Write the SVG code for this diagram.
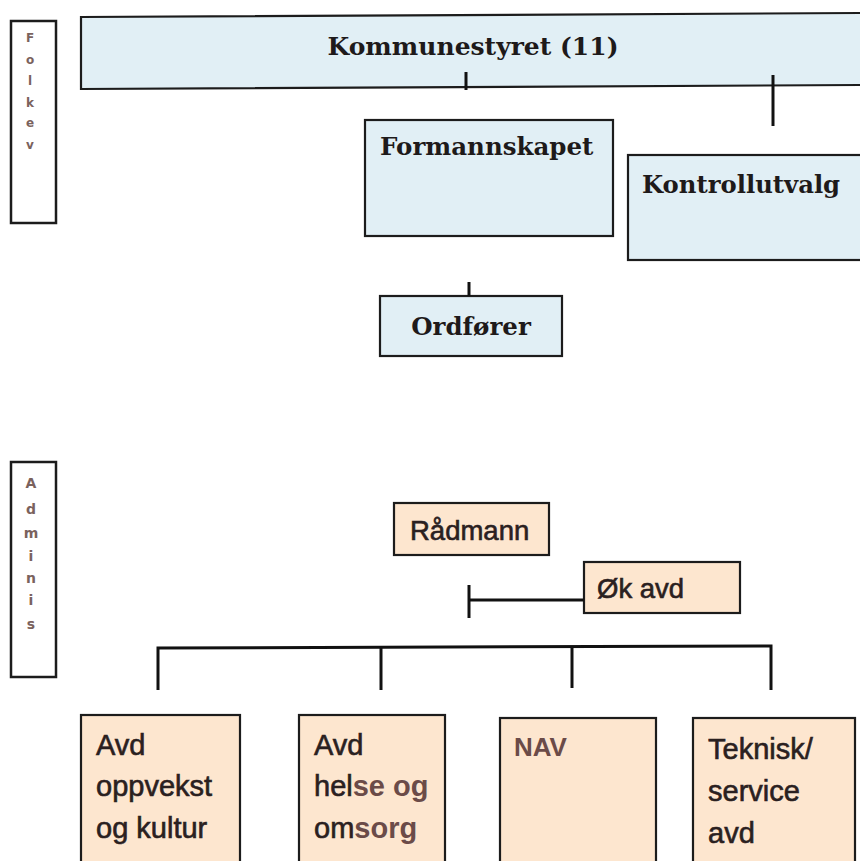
<svg xmlns="http://www.w3.org/2000/svg" width="860" height="861" viewBox="0 0 860 861">
<style>
.box{stroke:#1c1c1c;stroke-width:2.2}
.blue{fill:#e1eff5}
.peach{fill:#fde6cf}
.side{fill:#ffffff;stroke:#1c1c1c;stroke-width:2.5}
.ser{font-family:"DejaVu Serif",serif;font-weight:bold;fill:#1e1a1a}
.sans{font-family:"Liberation Sans",Arial,sans-serif;fill:#2a2020;stroke:#2a2020;stroke-width:0.6}
.brn{font-family:"Liberation Sans",Arial,sans-serif;font-weight:bold;fill:#6b4b48;stroke:none}
.vl{font-family:"DejaVu Sans",sans-serif;font-weight:bold;fill:#7a625d;text-anchor:middle}
.ln{stroke:#111;stroke-width:3;fill:none}
</style>
<rect width="860" height="861" fill="#ffffff"/>

<g id="folkev">
<rect class="side" x="11" y="21" width="45" height="202"/>
<text class="vl" font-size="12" x="30" y="42">F</text>
<text class="vl" font-size="12" x="30" y="64">o</text>
<text class="vl" font-size="12" x="30" y="85">l</text>
<text class="vl" font-size="12" x="30" y="107">k</text>
<text class="vl" font-size="12" x="30" y="127">e</text>
<text class="vl" font-size="12" x="30" y="149">v</text>
</g>

<g id="adminis">
<rect class="side" x="11" y="462" width="45" height="215"/>
<text class="vl" font-size="14" x="31" y="488">A</text>
<text class="vl" font-size="14" x="31" y="514">d</text>
<text class="vl" font-size="14" x="31" y="538">m</text>
<text class="vl" font-size="14" x="31" y="561">i</text>
<text class="vl" font-size="14" x="31" y="583">n</text>
<text class="vl" font-size="14" x="31" y="605">i</text>
<text class="vl" font-size="14" x="31" y="629">s</text>
</g>

<g id="kommunestyret">
<polygon class="box blue" points="81,17 862,13 862,85 81,89"/>
<text class="ser" font-size="25" x="473" y="55" text-anchor="middle">Kommunestyret (11)</text>
</g>

<g id="formannskapet">
<rect class="box blue" x="365" y="120" width="248" height="116"/>
<text class="ser" font-size="24.5" x="380" y="155">Formannskapet</text>
</g>

<g id="kontrollutvalg">
<rect class="box blue" x="628" y="155" width="240" height="105"/>
<text class="ser" font-size="24.3" x="642" y="193">Kontrollutvalg</text>
</g>

<g id="ordforer">
<rect class="box blue" x="380" y="296" width="182" height="60"/>
<text class="ser" font-size="24.5" x="471" y="335" text-anchor="middle">Ordfører</text>
</g>

<g id="radmann">
<rect class="box peach" x="394" y="503" width="155" height="52"/>
<text class="sans" font-size="27.5" x="410" y="540">Rådmann</text>
</g>

<g id="okavd">
<rect class="box peach" x="584" y="562" width="156" height="51"/>
<text class="sans" font-size="27.5" x="597" y="598">Øk avd</text>
</g>

<g id="avd-oppvekst">
<rect class="box peach" x="81" y="715" width="159" height="160"/>
<text class="sans" font-size="29" x="96" y="755">Avd</text>
<text class="sans" font-size="29" x="96" y="796">oppvekst</text>
<text class="sans" font-size="29" x="96" y="838">og kultur</text>
</g>

<g id="avd-helse">
<rect class="box peach" x="299" y="715" width="146" height="160"/>
<text class="sans" font-size="29" x="314" y="755">Avd</text>
<text class="sans" font-size="29" x="314" y="796">hel<tspan class="brn">se og</tspan></text>
<text class="sans" font-size="29" x="314" y="838">om<tspan class="brn">sorg</tspan></text>
</g>

<g id="nav">
<rect class="box peach" x="500" y="718" width="156" height="157"/>
<text class="brn" font-size="26" x="514" y="756">NAV</text>
</g>

<g id="teknisk">
<rect class="box peach" x="693" y="718" width="162" height="157"/>
<text class="sans" font-size="29" x="708" y="759">Teknisk/</text>
<text class="sans" font-size="29" x="708" y="801">service</text>
<text class="sans" font-size="29" x="708" y="843">avd</text>
</g>

<g id="connectors">
<line class="ln" x1="466" y1="72" x2="466" y2="90"/>
<line class="ln" x1="773" y1="75" x2="773" y2="126"/>
<line class="ln" x1="469" y1="282" x2="469" y2="296"/>
<line class="ln" x1="469" y1="600" x2="584" y2="600"/>
<line class="ln" x1="469" y1="585" x2="469" y2="618"/>
<polyline class="ln" points="158,690 158,648 771,646 771,690"/>
<line class="ln" x1="381" y1="648" x2="381" y2="690"/>
<line class="ln" x1="572" y1="647" x2="572" y2="688"/>
</g>
</svg>
